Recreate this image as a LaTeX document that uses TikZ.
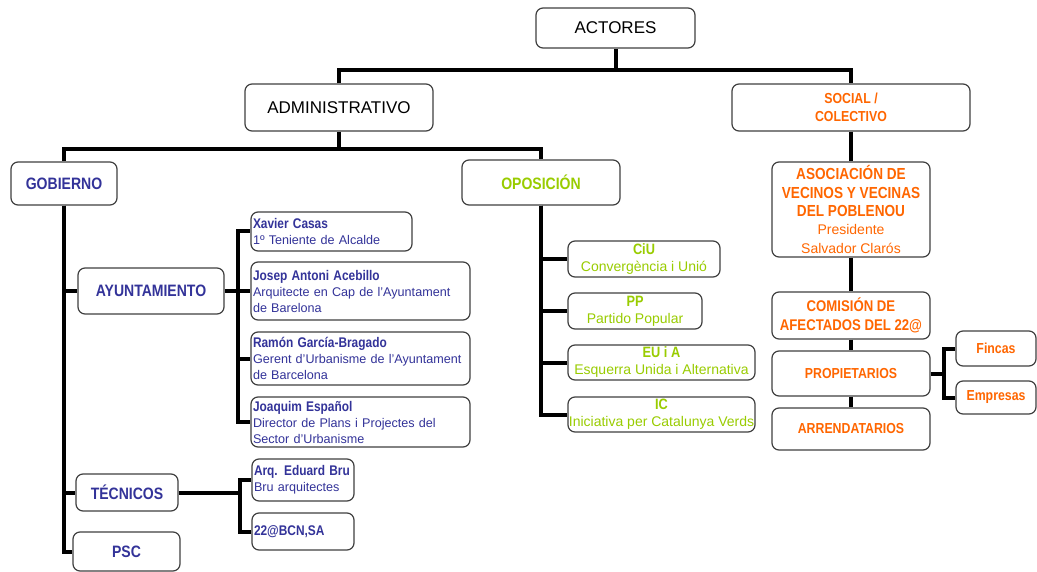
\documentclass[tikz,border=0pt]{standalone}
\usepackage{fontspec}
\setmainfont{Liberation Sans}
\newfontfamily\hd{Liberation Sans}[FakeStretch=0.85]
\definecolor{cblue}{HTML}{333399}
\definecolor{cgreen}{HTML}{99CC00}
\definecolor{corange}{HTML}{FF6600}
\newcommand\fsz[2]{\fontsize{#1pt}{#2pt}\selectfont}
\newcommand\hb[2]{{\hd\bfseries\fontsize{#1pt}{#1pt}\selectfont #2}}
\tikzset{
  box/.style={draw=black!75, line width=1.2pt, rounded corners=7pt, fill=white, inner sep=1pt, align=center},
  sz/.style 2 args={minimum width=#1pt, minimum height=#2pt},
  pbox/.style={box, align=left, inner xsep=2pt, inner ysep=1pt, text=cblue, font=\fsz{12.6}{16}},
  bbox/.style={box, text=cblue},
  gbox/.style={box, text=cgreen, inner sep=0pt, font=\fsz{14}{17}},
  obox/.style={box, text=corange},
  conn/.style={line width=4pt, draw=black}
}
\begin{document}
\begin{tikzpicture}[x=1pt,y=-1pt]
\fill[white] (0,0) rectangle (1037,572);
\useasboundingbox (0,0) rectangle (1037,572);
% top levels
\node[box, sz={159}{40}, font=\fsz{17}{20}] (act) at (615.5,28) {ACTORES};
\node[box, sz={188}{47}, font=\fsz{17}{20}] (adm) at (339,107.5) {ADMINISTRATIVO};
\node[obox, sz={238}{47}, font=\fsz{14.5}{18}] (soc) at (851,107.5) {\hb{14.5}{SOCIAL /}\\\hb{14.5}{COLECTIVO}};
% gobierno side
\node[bbox, sz={106}{43}] (gob) at (64,183.5) {\hb{16.5}{GOBIERNO}};
\node[bbox, sz={146}{46}] (ayu) at (151,291) {\hb{16.5}{AYUNTAMIENTO}};
\node[bbox, sz={102}{37}] (tec) at (127,492.5) {\hb{16.5}{TÉCNICOS}};
\node[bbox, sz={107}{39}] (psc) at (126.5,551.5) {\hb{16.5}{PSC}};
\node[pbox, text width=157pt, minimum height=39pt] (p1) at (331.5,231.5) {\hb{14}{Xavier Casas}\\1º Teniente de Alcalde};
\node[pbox, text width=215pt, minimum height=58pt] (p2) at (360.5,291) {\hb{14}{Josep Antoni Acebillo}\\Arquitecte en Cap de l'Ayuntament\\de Barelona};
\node[pbox, text width=215pt, minimum height=53pt] (p3) at (360.5,358.5) {\hb{14}{Ramón García-Bragado}\\Gerent d'Urbanisme de l'Ayuntament\\de Barcelona};
\node[pbox, text width=215pt, minimum height=50pt] (p4) at (360.5,422) {\hb{14}{Joaquim Español}\\Director de Plans i Projectes del\\Sector d'Urbanisme};
\node[pbox, text width=98pt, minimum height=42pt] (t1) at (303,480) {\hb{14}{Arq. Eduard Bru}\\Bru arquitectes};
\node[pbox, text width=98pt, minimum height=37pt] (t2) at (303,531.5) {\hb{14}{22@BCN,SA}};
% oposicion
\node[box, text=cgreen, sz={158}{45}] (opo) at (541,182.5) {\hb{16.5}{OPOSICIÓN}};
\node[gbox, sz={152}{36}] (ciu) at (644,259) {\hb{15}{CiU}\\Convergència i Unió};
\node[gbox, sz={134}{36}] (pp) at (635,311) {\hb{15}{PP}\\Partido Popular};
\node[gbox, sz={187}{35}] (eu) at (661.5,362.5) {\hb{15}{EU i A}\\Esquerra Unida i Alternativa};
\node[gbox, sz={187}{35}] (ic) at (661.5,414.5) {\hb{15}{IC}\\Iniciativa per Catalunya Verds};
% social
\node[obox, sz={158}{95}, font=\fsz{14}{18.3}] (aso) at (851,209.5) {\hb{16}{ASOCIACIÓN DE}\\\hb{16}{VECINOS Y VECINAS}\\\hb{16}{DEL POBLENOU}\\Presidente\\Salvador Clarós};
\node[obox, sz={158}{47}, font=\fsz{15.5}{18.5}] (com) at (851,315.5) {\hb{15.5}{COMISIÓN DE}\\\hb{15.5}{AFECTADOS DEL 22@}};
\node[obox, sz={158}{45}] (pro) at (851,373.5) {\hb{14.5}{PROPIETARIOS}};
\node[obox, sz={158}{42}] (arr) at (851,429) {\hb{14.5}{ARRENDATARIOS}};
\node[obox, sz={80}{35}] (fin) at (996,348.5) {\hb{14.5}{Fincas}};
\node[obox, sz={80}{33}] (emp) at (996,397.5) {\hb{14.5}{Empresas}};
% connectors
\draw[conn] (act.south) -- ++(0,21) coordinate (j1);
\draw[conn] (adm.north) |- (j1) -| (soc.north);
\draw[conn] (adm.south) -- ++(0,17) coordinate (j2);
\draw[conn] (gob.north) |- (j2) -| (opo.north);
\draw[conn] (gob.south) |- (psc.west);
\draw[conn] (gob.south) |- (tec.west);
\draw[conn] (gob.south) |- (ayu.west);
\draw[conn] (ayu.east) -- ++(13,0) coordinate (ja);
\foreach \p in {p1,p2,p3,p4} \draw[conn] (ja) |- (\p.west);
\draw[conn] (tec.east) -- ++(61,0) coordinate (jt);
\draw[conn] (jt) |- (t1.west);
\draw[conn] (jt) |- (t2.west);
\foreach \p in {ciu,pp,eu,ic} \draw[conn] (opo.south) |- (\p.west);
\draw[conn] (soc.south) -- (aso.north);
\draw[conn] (aso.south) -- (com.north);
\draw[conn] (com.south) -- (pro.north);
\draw[conn] (pro.south) -- (arr.north);
\draw[conn] (pro.east) -- ++(13,0) coordinate (jp);
\draw[conn] (jp) |- (fin.west);
\draw[conn] (jp) |- (emp.west);
\end{tikzpicture}
\end{document}
